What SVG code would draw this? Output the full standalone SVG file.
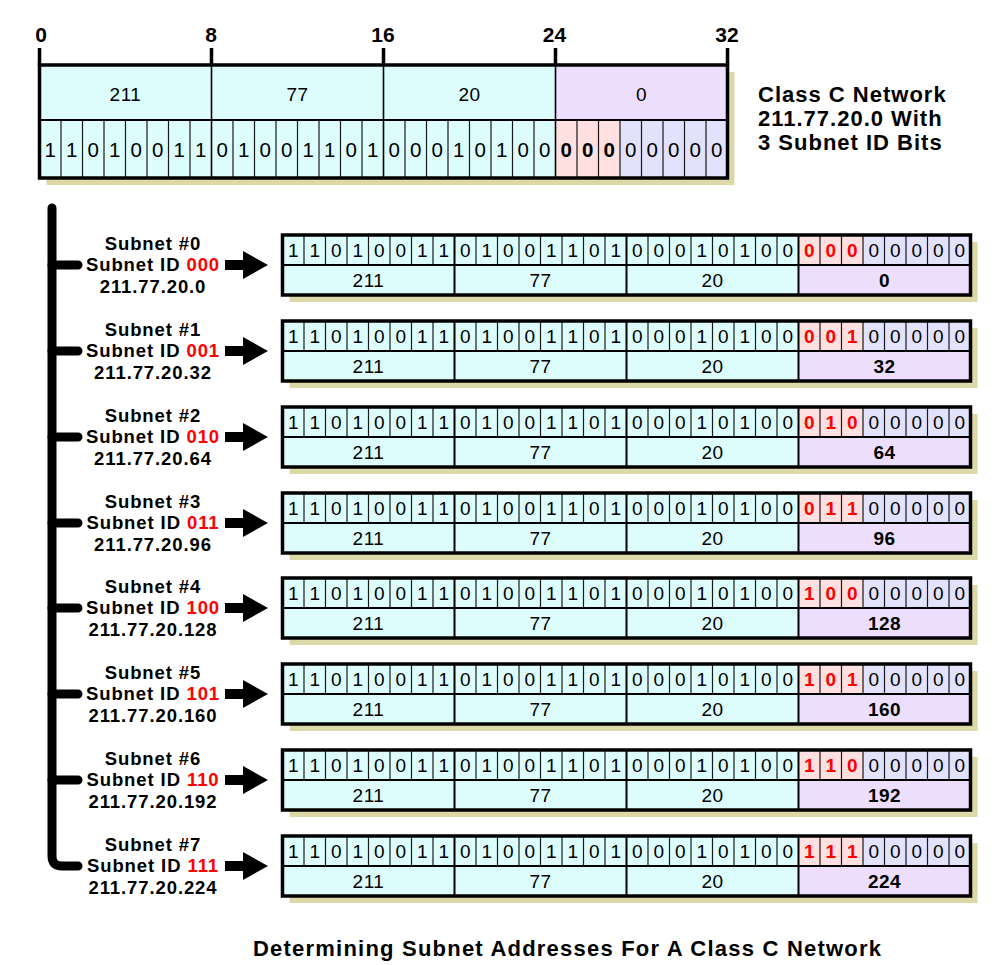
<svg xmlns="http://www.w3.org/2000/svg" xmlns:xlink="http://www.w3.org/1999/xlink" width="1000" height="965" viewBox="0 0 1000 965">
<style>
text{font-family:"Liberation Sans",Arial,sans-serif;fill:#000}
.tick{font-size:21px;font-weight:bold;text-anchor:middle}
.hv{font-size:19px;text-anchor:middle;letter-spacing:0.5px}
.tb{font-size:20.5px;text-anchor:middle}
.rb{font-size:19px;text-anchor:middle}
.rv{font-size:19px;text-anchor:middle;letter-spacing:0.5px}
.red{fill:#ff0000;font-weight:bold}
.bold{font-weight:bold}
.lbl{font-size:18.5px;font-weight:bold;text-anchor:middle;letter-spacing:0.9px}
.cap{font-size:22px;font-weight:bold;letter-spacing:1px}
.title{font-size:22px;font-weight:bold;text-anchor:middle}
.cy{fill:#ddfdfd}.pk{fill:#ffe0e0}.lv{fill:#e2e2fc}.pu{fill:#ecdefc}.sh{fill:#dcd8a8}
.thin{stroke:#1a1a1a;stroke-width:1.2;fill:none}
.byte{stroke:#000;stroke-width:2;fill:none}
.outer{stroke:#000;stroke-width:3.5;fill:none}
.bus{stroke:#000;stroke-width:9;fill:none;stroke-linecap:round;stroke-linejoin:round}
.arr{stroke:#000;stroke-width:10;fill:none}
</style>
<defs>
<marker id="ah" markerUnits="userSpaceOnUse" markerWidth="26" markerHeight="28" refX="2" refY="14" orient="auto">
<path d="M0,0 L25,14 L0,28 Z" fill="#000"/>
</marker>
<g id="rowframe">
<rect class="sh" x="7" y="7" width="688" height="60"/>
<rect class="cy" x="0" y="0" width="516" height="60"/>
<rect class="pk" x="516" y="0" width="64.5" height="30"/>
<rect class="lv" x="580.5" y="0" width="107.5" height="30"/>
<rect class="pu" x="516" y="30" width="172" height="30"/>
<path class="thin" d="M21.5 0v30M43 0v30M64.5 0v30M86 0v30M107.5 0v30M129 0v30M150.5 0v30M193.5 0v30M215 0v30M236.5 0v30M258 0v30M279.5 0v30M301 0v30M322.5 0v30M365.5 0v30M387 0v30M408.5 0v30M430 0v30M451.5 0v30M473 0v30M494.5 0v30M537.5 0v30M559 0v30M580.5 0v30M602 0v30M623.5 0v30M645 0v30M666.5 0v30"/>
<path class="byte" d="M172 0v60M344 0v60M516 0v60M0 30h688"/>
<rect class="outer" x="0" y="0" width="688" height="60"/>
</g>
</defs>
<rect width="1000" height="965" fill="#fff"/>

<g id="network-header" transform="translate(39.5,65)">
<rect class="sh" x="7" y="7" width="688" height="113"/>
<rect class="cy" x="0" y="0" width="516" height="113"/>
<rect class="pu" x="516" y="0" width="172" height="55"/>
<rect class="pk" x="516" y="55" width="64.5" height="58"/>
<rect class="lv" x="580.5" y="55" width="107.5" height="58"/>
<path class="thin" d="M21.5 55v58M43 55v58M64.5 55v58M86 55v58M107.5 55v58M129 55v58M150.5 55v58M193.5 55v58M215 55v58M236.5 55v58M258 55v58M279.5 55v58M301 55v58M322.5 55v58M365.5 55v58M387 55v58M408.5 55v58M430 55v58M451.5 55v58M473 55v58M494.5 55v58M537.5 55v58M559 55v58M580.5 55v58M602 55v58M623.5 55v58M645 55v58M666.5 55v58"/>
<path stroke="#000" stroke-width="1.6" fill="none" d="M172 0v113M344 0v113M516 0v113"/>
<path class="byte" d="M0 55h688"/>
<rect class="outer" x="0" y="0" width="688" height="113"/>
<path stroke="#000" stroke-width="3.5" fill="none" d="M0 -17V0M172 -17V0M344 -17V0M516 -17V0M688 -17V0"/>
<text class="tick" x="1.5" y="-23">0</text>
<text class="tick" x="171.5" y="-23">8</text>
<text class="tick" x="343.5" y="-23">16</text>
<text class="tick" x="515" y="-23">24</text>
<text class="tick" x="687.5" y="-23">32</text>
<text class="hv" x="86" y="36">211</text>
<text class="hv" x="258" y="36">77</text>
<text class="hv" x="430" y="36">20</text>
<text class="hv" x="602" y="36">0</text>
<text class="tb" x="10.75 32.25 53.75 75.25 96.75 118.25 139.75 161.25 182.75 204.25 225.75 247.25 268.75 290.25 311.75 333.25 354.75 376.25 397.75 419.25 440.75 462.25 483.75 505.25" y="92">110100110100110100010100</text>
<text class="tb bold" x="526.75 548.25 569.75" y="92">000</text>
<text class="tb" x="591.25 612.75 634.25 655.75 677.25" y="92">00000</text>
</g>

<g id="caption">
<text class="cap" x="758" y="102">Class C Network</text>
<text class="cap" x="758" y="126">211.77.20.0 With</text>
<text class="cap" x="758" y="150">3 Subnet ID Bits</text>
</g>

<g id="connectors">
<path class="bus" d="M52 208V856Q52 866 62 866H78"/>
<path class="bus" d="M52 265H78M52 351H78M52 437H78M52 523H78M52 608H78M52 694H78M52 780H78"/>
<line class="arr" x1="225" y1="265" x2="245" y2="265" marker-end="url(#ah)"/>
<line class="arr" x1="225" y1="351" x2="245" y2="351" marker-end="url(#ah)"/>
<line class="arr" x1="225" y1="437" x2="245" y2="437" marker-end="url(#ah)"/>
<line class="arr" x1="225" y1="523" x2="245" y2="523" marker-end="url(#ah)"/>
<line class="arr" x1="225" y1="608" x2="245" y2="608" marker-end="url(#ah)"/>
<line class="arr" x1="225" y1="694" x2="245" y2="694" marker-end="url(#ah)"/>
<line class="arr" x1="225" y1="780" x2="245" y2="780" marker-end="url(#ah)"/>
<line class="arr" x1="225" y1="866" x2="245" y2="866" marker-end="url(#ah)"/>
</g>

<g id="subnet-0">
<text class="lbl" x="153" y="250">Subnet #0</text>
<text class="lbl" x="153" y="271">Subnet ID <tspan fill="#ff0000">000</tspan></text>
<text class="lbl" x="153" y="293">211.77.20.0</text>
<g transform="translate(282.5,235)">
<use xlink:href="#rowframe"/>
<text class="rb" x="10.75 32.25 53.75 75.25 96.75 118.25 139.75 161.25 182.75 204.25 225.75 247.25 268.75 290.25 311.75 333.25 354.75 376.25 397.75 419.25 440.75 462.25 483.75 505.25" y="22">110100110100110100010100</text>
<text class="rb red" x="526.75 548.25 569.75" y="22">000</text>
<text class="rb" x="591.25 612.75 634.25 655.75 677.25" y="22">00000</text>
<text class="rv" x="86" y="52">211</text><text class="rv" x="258" y="52">77</text><text class="rv" x="430" y="52">20</text>
<text class="rv bold" x="602" y="52">0</text>
</g>
</g>

<g id="subnet-1">
<text class="lbl" x="153" y="336">Subnet #1</text>
<text class="lbl" x="153" y="357">Subnet ID <tspan fill="#ff0000">001</tspan></text>
<text class="lbl" x="153" y="379">211.77.20.32</text>
<g transform="translate(282.5,321)">
<use xlink:href="#rowframe"/>
<text class="rb" x="10.75 32.25 53.75 75.25 96.75 118.25 139.75 161.25 182.75 204.25 225.75 247.25 268.75 290.25 311.75 333.25 354.75 376.25 397.75 419.25 440.75 462.25 483.75 505.25" y="22">110100110100110100010100</text>
<text class="rb red" x="526.75 548.25 569.75" y="22">001</text>
<text class="rb" x="591.25 612.75 634.25 655.75 677.25" y="22">00000</text>
<text class="rv" x="86" y="52">211</text><text class="rv" x="258" y="52">77</text><text class="rv" x="430" y="52">20</text>
<text class="rv bold" x="602" y="52">32</text>
</g>
</g>

<g id="subnet-2">
<text class="lbl" x="153" y="422">Subnet #2</text>
<text class="lbl" x="153" y="443">Subnet ID <tspan fill="#ff0000">010</tspan></text>
<text class="lbl" x="153" y="465">211.77.20.64</text>
<g transform="translate(282.5,407)">
<use xlink:href="#rowframe"/>
<text class="rb" x="10.75 32.25 53.75 75.25 96.75 118.25 139.75 161.25 182.75 204.25 225.75 247.25 268.75 290.25 311.75 333.25 354.75 376.25 397.75 419.25 440.75 462.25 483.75 505.25" y="22">110100110100110100010100</text>
<text class="rb red" x="526.75 548.25 569.75" y="22">010</text>
<text class="rb" x="591.25 612.75 634.25 655.75 677.25" y="22">00000</text>
<text class="rv" x="86" y="52">211</text><text class="rv" x="258" y="52">77</text><text class="rv" x="430" y="52">20</text>
<text class="rv bold" x="602" y="52">64</text>
</g>
</g>

<g id="subnet-3">
<text class="lbl" x="153" y="508">Subnet #3</text>
<text class="lbl" x="153" y="529">Subnet ID <tspan fill="#ff0000">011</tspan></text>
<text class="lbl" x="153" y="551">211.77.20.96</text>
<g transform="translate(282.5,493)">
<use xlink:href="#rowframe"/>
<text class="rb" x="10.75 32.25 53.75 75.25 96.75 118.25 139.75 161.25 182.75 204.25 225.75 247.25 268.75 290.25 311.75 333.25 354.75 376.25 397.75 419.25 440.75 462.25 483.75 505.25" y="22">110100110100110100010100</text>
<text class="rb red" x="526.75 548.25 569.75" y="22">011</text>
<text class="rb" x="591.25 612.75 634.25 655.75 677.25" y="22">00000</text>
<text class="rv" x="86" y="52">211</text><text class="rv" x="258" y="52">77</text><text class="rv" x="430" y="52">20</text>
<text class="rv bold" x="602" y="52">96</text>
</g>
</g>

<g id="subnet-4">
<text class="lbl" x="153" y="593">Subnet #4</text>
<text class="lbl" x="153" y="614">Subnet ID <tspan fill="#ff0000">100</tspan></text>
<text class="lbl" x="153" y="636">211.77.20.128</text>
<g transform="translate(282.5,578)">
<use xlink:href="#rowframe"/>
<text class="rb" x="10.75 32.25 53.75 75.25 96.75 118.25 139.75 161.25 182.75 204.25 225.75 247.25 268.75 290.25 311.75 333.25 354.75 376.25 397.75 419.25 440.75 462.25 483.75 505.25" y="22">110100110100110100010100</text>
<text class="rb red" x="526.75 548.25 569.75" y="22">100</text>
<text class="rb" x="591.25 612.75 634.25 655.75 677.25" y="22">00000</text>
<text class="rv" x="86" y="52">211</text><text class="rv" x="258" y="52">77</text><text class="rv" x="430" y="52">20</text>
<text class="rv bold" x="602" y="52">128</text>
</g>
</g>

<g id="subnet-5">
<text class="lbl" x="153" y="679">Subnet #5</text>
<text class="lbl" x="153" y="700">Subnet ID <tspan fill="#ff0000">101</tspan></text>
<text class="lbl" x="153" y="722">211.77.20.160</text>
<g transform="translate(282.5,664)">
<use xlink:href="#rowframe"/>
<text class="rb" x="10.75 32.25 53.75 75.25 96.75 118.25 139.75 161.25 182.75 204.25 225.75 247.25 268.75 290.25 311.75 333.25 354.75 376.25 397.75 419.25 440.75 462.25 483.75 505.25" y="22">110100110100110100010100</text>
<text class="rb red" x="526.75 548.25 569.75" y="22">101</text>
<text class="rb" x="591.25 612.75 634.25 655.75 677.25" y="22">00000</text>
<text class="rv" x="86" y="52">211</text><text class="rv" x="258" y="52">77</text><text class="rv" x="430" y="52">20</text>
<text class="rv bold" x="602" y="52">160</text>
</g>
</g>

<g id="subnet-6">
<text class="lbl" x="153" y="765">Subnet #6</text>
<text class="lbl" x="153" y="786">Subnet ID <tspan fill="#ff0000">110</tspan></text>
<text class="lbl" x="153" y="808">211.77.20.192</text>
<g transform="translate(282.5,750)">
<use xlink:href="#rowframe"/>
<text class="rb" x="10.75 32.25 53.75 75.25 96.75 118.25 139.75 161.25 182.75 204.25 225.75 247.25 268.75 290.25 311.75 333.25 354.75 376.25 397.75 419.25 440.75 462.25 483.75 505.25" y="22">110100110100110100010100</text>
<text class="rb red" x="526.75 548.25 569.75" y="22">110</text>
<text class="rb" x="591.25 612.75 634.25 655.75 677.25" y="22">00000</text>
<text class="rv" x="86" y="52">211</text><text class="rv" x="258" y="52">77</text><text class="rv" x="430" y="52">20</text>
<text class="rv bold" x="602" y="52">192</text>
</g>
</g>

<g id="subnet-7">
<text class="lbl" x="153" y="851">Subnet #7</text>
<text class="lbl" x="153" y="872">Subnet ID <tspan fill="#ff0000">111</tspan></text>
<text class="lbl" x="153" y="894">211.77.20.224</text>
<g transform="translate(282.5,836)">
<use xlink:href="#rowframe"/>
<text class="rb" x="10.75 32.25 53.75 75.25 96.75 118.25 139.75 161.25 182.75 204.25 225.75 247.25 268.75 290.25 311.75 333.25 354.75 376.25 397.75 419.25 440.75 462.25 483.75 505.25" y="22">110100110100110100010100</text>
<text class="rb red" x="526.75 548.25 569.75" y="22">111</text>
<text class="rb" x="591.25 612.75 634.25 655.75 677.25" y="22">00000</text>
<text class="rv" x="86" y="52">211</text><text class="rv" x="258" y="52">77</text><text class="rv" x="430" y="52">20</text>
<text class="rv bold" x="602" y="52">224</text>
</g>
</g>

<g id="title">
<text class="title" x="567" y="956" textLength="628" lengthAdjust="spacing">Determining Subnet Addresses For A Class C Network</text>
</g>
</svg>
